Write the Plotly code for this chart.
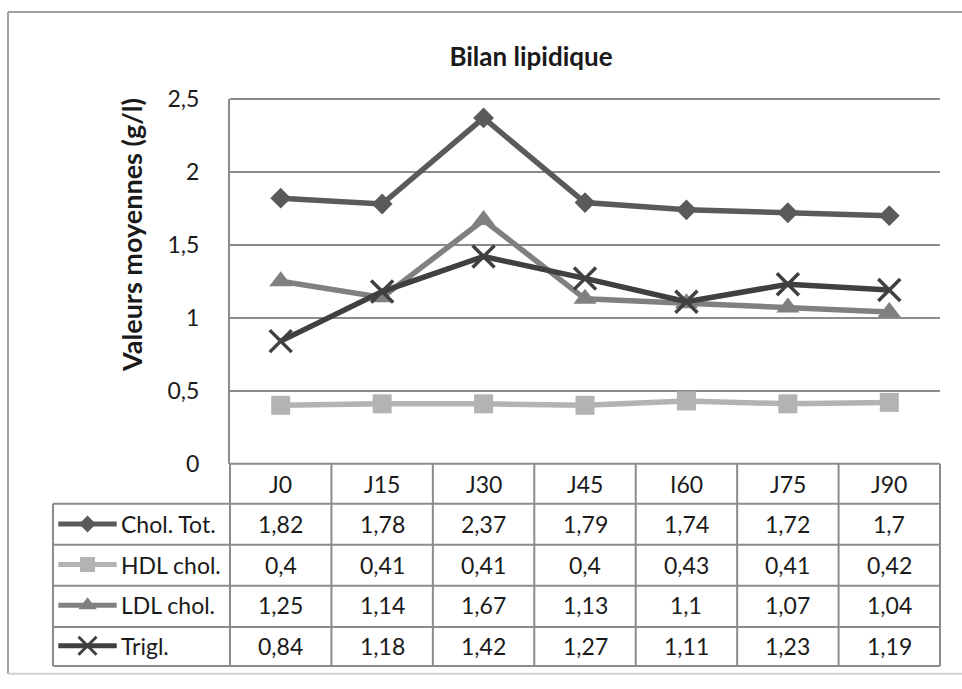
import plotly.graph_objects as go

# ---------------- data ----------------
categories = ["J0", "J15", "J30", "J45", "I60", "J75", "J90"]
series_names = ["Chol. Tot.", "HDL chol.", "LDL chol.", "Trigl."]
chol_tot = [1.82, 1.78, 2.37, 1.79, 1.74, 1.72, 1.7]
hdl_chol = [0.4, 0.41, 0.41, 0.4, 0.43, 0.41, 0.42]
ldl_chol = [1.25, 1.14, 1.67, 1.13, 1.1, 1.07, 1.04]
trigl = [0.84, 1.18, 1.42, 1.27, 1.11, 1.23, 1.19]
y_ticks = [0, 0.5, 1, 1.5, 2, 2.5]
chart_title = "Bilan lipidique"
y_title = "Valeurs moyennes (g/l)"

series_values = [chol_tot, hdl_chol, ldl_chol, trigl]

# ---------------- styles ----------------
styles = [
    dict(color="#5a5a5a", symbol="diamond", size=16, lsize=13),
    dict(color="#b3b3b3", symbol="square", size=19, lsize=15),
    dict(color="#808080", symbol="triangle-up", size=20, lsize=16),
    dict(color="#404040", symbol="x-thin", size=22, lsize=18),
]
FONT = "Lato"
TXT = "#1a1a1a"
GRID = "#8c8c8c"
FS = 23

# ---------------- geometry (pixels) ----------------
W, H = 962, 689
ML, MR, MT, MB = 53, 22, 99, 10
PW = W - ML - MR
PH = H - MT - MB


def px(x):
    return (x - ML) / PW


def py(y):
    return (H - MB - y) / PH


plot_left, plot_top, plot_bottom = 230, 99, 472
header_bottom = 513
table_bottom = 679
row_lines = [513, 555, 597, 639, 679]

x_dom0 = px(plot_left)
n = len(categories)
xs = list(range(n))

fig = go.Figure()

for name, vals, st in zip(series_names, series_values, styles):
    mk = dict(symbol=st["symbol"], size=st["size"], color=st["color"])
    if st["symbol"] == "x-thin":
        mk["line"] = dict(width=3.5, color=st["color"])
    fig.add_trace(go.Scatter(
        x=xs, y=vals, name=name, mode="lines+markers",
        line=dict(color=st["color"], width=5.5),
        marker=mk, cliponaxis=False, showlegend=False,
        xaxis="x", yaxis="y",
    ))

# legend samples inside table row-label column
for i, (name, st) in enumerate(zip(series_names, styles)):
    fig.add_trace(go.Scatter(
        x=[0.03, 0.36], y=[i, i], mode="lines",
        line=dict(color=st["color"], width=5),
        showlegend=False, xaxis="x2", yaxis="y2", hoverinfo="skip",
    ))
    mk = dict(symbol=st["symbol"], size=st["lsize"], color=st["color"])
    if st["symbol"] == "x-thin":
        mk["line"] = dict(width=3, color=st["color"])
    fig.add_trace(go.Scatter(
        x=[0.195], y=[i], mode="markers", marker=mk,
        showlegend=False, xaxis="x2", yaxis="y2", hoverinfo="skip",
        cliponaxis=False,
    ))

shapes = []
line_style = dict(color=GRID, width=2)
# top gridline and header top line (x axis base)
for yl in (plot_top, plot_bottom):
    shapes.append(dict(type="line", xref="paper", yref="paper",
                       x0=x_dom0, x1=1, y0=py(yl), y1=py(yl), line=line_style))
# horizontal row lines
for yl in row_lines:
    shapes.append(dict(type="line", xref="paper", yref="paper",
                       x0=0, x1=1, y0=py(yl), y1=py(yl), line=line_style))
# vertical category boundaries
for k in range(n + 1):
    xp = x_dom0 + k / n * (1 - x_dom0)
    shapes.append(dict(type="line", xref="paper", yref="paper",
                       x0=xp, x1=xp, y0=py(plot_bottom), y1=py(table_bottom), line=line_style))
# left edge of row-label column
shapes.append(dict(type="line", xref="paper", yref="paper",
                   x0=0, x1=0, y0=py(header_bottom), y1=py(table_bottom), line=line_style))
# outer chart border (top, left, bottom)
border = dict(color="#a0a0a0", width=2)
shapes.append(dict(type="line", xref="paper", yref="paper",
                   x0=px(8), x1=px(1000), y0=py(10), y1=py(10), line=border))
shapes.append(dict(type="line", xref="paper", yref="paper",
                   x0=px(8), x1=px(8), y0=py(10), y1=py(687), line=border))
shapes.append(dict(type="line", xref="paper", yref="paper",
                   x0=px(8), x1=px(1000), y0=py(687), y1=py(687),
                   line=dict(color="#d0d0d0", width=2)))

annotations = []
# header labels
for j, c in enumerate(categories):
    annotations.append(dict(text=c, xref="x", yref="paper", x=j,
                            y=py((plot_bottom + header_bottom) / 2),
                            xanchor="center", yanchor="middle", showarrow=False,
                            font=dict(family=FONT, size=FS, color=TXT)))
# cell values
for i, vals in enumerate(series_values):
    for j, v in enumerate(vals):
        annotations.append(dict(text=str(v).replace(".", ","), xref="x", yref="y2",
                                x=j, y=i, xanchor="center", yanchor="middle",
                                showarrow=False,
                                font=dict(family=FONT, size=FS, color=TXT)))
# row labels
for i, name in enumerate(series_names):
    annotations.append(dict(text=name, xref="x2", yref="y2", x=0.375, y=i,
                            xanchor="left", yanchor="middle", showarrow=False,
                            font=dict(family=FONT, size=FS, color=TXT)))
# y axis title
annotations.append(dict(text="<b>" + y_title + "</b>", xref="paper", yref="paper",
                        x=px(132), y=py(238), textangle=-90, showarrow=False,
                        xanchor="center", yanchor="middle",
                        font=dict(family=FONT, size=27, color=TXT)))

fig.update_layout(
    width=W, height=H,
    margin=dict(l=ML, r=MR, t=MT, b=MB),
    paper_bgcolor="white", plot_bgcolor="white",
    separators=", ",
    title=dict(text="<b>" + chart_title + "</b>", xref="container", yref="container",
               x=531 / W, y=1 - 57 / H, xanchor="center", yanchor="middle",
               font=dict(family=FONT, size=26, color=TXT)),
    xaxis=dict(domain=[x_dom0, 1], range=[-0.5, n - 0.5], showticklabels=False,
               showgrid=False, zeroline=False, showline=False, fixedrange=True),
    yaxis=dict(domain=[py(plot_bottom), py(plot_top)], range=[0, 2.5],
               tickvals=y_ticks, showgrid=True, gridcolor=GRID, gridwidth=2,
               zeroline=False, showline=True, linecolor=GRID, linewidth=2,
               ticks="", ticklabelstandoff=24,
               tickfont=dict(family=FONT, size=FS, color=TXT)),
    xaxis2=dict(domain=[0, x_dom0], range=[0, 1], visible=False, anchor="y2"),
    yaxis2=dict(domain=[0, py(header_bottom)], range=[len(series_names) - 0.5, -0.5],
                visible=False, anchor="x2"),
    shapes=shapes,
    annotations=annotations,
)

fig.write_html("out.html")
